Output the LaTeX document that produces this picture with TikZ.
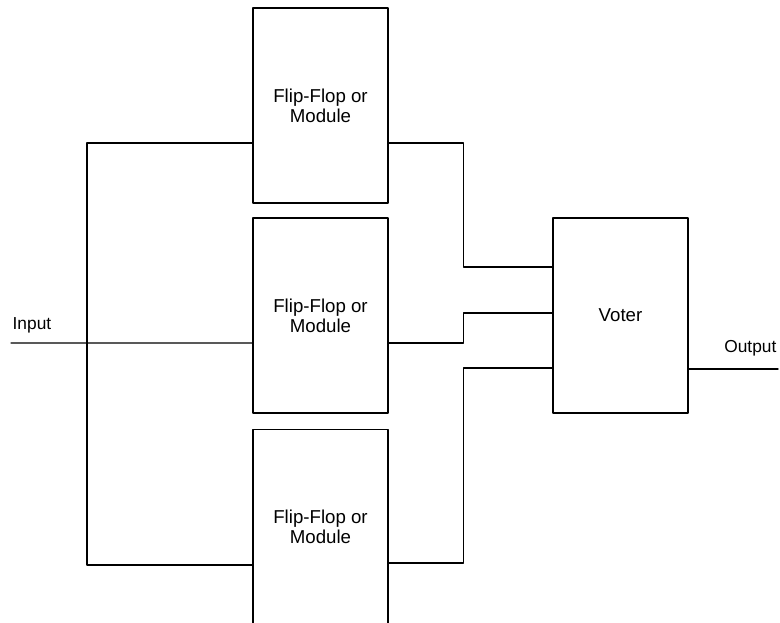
\documentclass[tikz,border=0pt]{standalone}
\usepackage{fontspec}
\setmainfont{Liberation Sans}
\begin{document}
\begin{tikzpicture}[x=0.75pt,y=-0.75pt,line cap=round,line join=round,line width=1pt]
			\tikzset{module/.style={draw,minimum width=101.25pt,minimum height=146.25pt,inner sep=0pt,align=center,font=\fontsize{14}{15}\selectfont},
				label style/.style={font=\fontsize{13}{15}\selectfont,inner sep=0pt}}
			\useasboundingbox (0,0) rectangle (780,623);
			\clip (0,0) rectangle (780,623);
			% the three modules and the voter
			\node[module] (ff1) at (320.5,105.5) {Flip-Flop or\\Module};
			\node[module] (ff2) at (320.5,315.5) {Flip-Flop or\\Module};
			\node[module] (ff3) at (320.5,527) {Flip-Flop or\\Module};
			\node[module] (vot) at (620.5,315.5) {Voter};
			% input side
			\coordinate (in) at (11,343);
			\coordinate (split) at (87,343);
			\node[label style,anchor=base west] (inlab) at (12,329) {Input};
			\draw (in) -- ([yshift=-20.6pt]ff2.west);
			\draw ([yshift=-28.1pt]ff1.west) -| (split) |- ([yshift=-28.5pt]ff3.west);
			% module outputs to the voter
			\draw ([yshift=-28.1pt]ff1.east) -- ++(75,0) |- ([yshift=36.4pt]vot.west);
			\draw ([yshift=-20.6pt]ff2.east) -- ++(75,0) |- ([yshift=1.9pt]vot.west);
			\draw ([yshift=-27pt]ff3.east) -- ++(75,0) |- ([yshift=-39.4pt]vot.west);
			% output side
			\coordinate (out) at (778,369);
			\node[label style,anchor=base east] (outlab) at (777,352) {Output};
			\draw (vot.east |- out) -- (out);
		\end{tikzpicture}
\end{document}
